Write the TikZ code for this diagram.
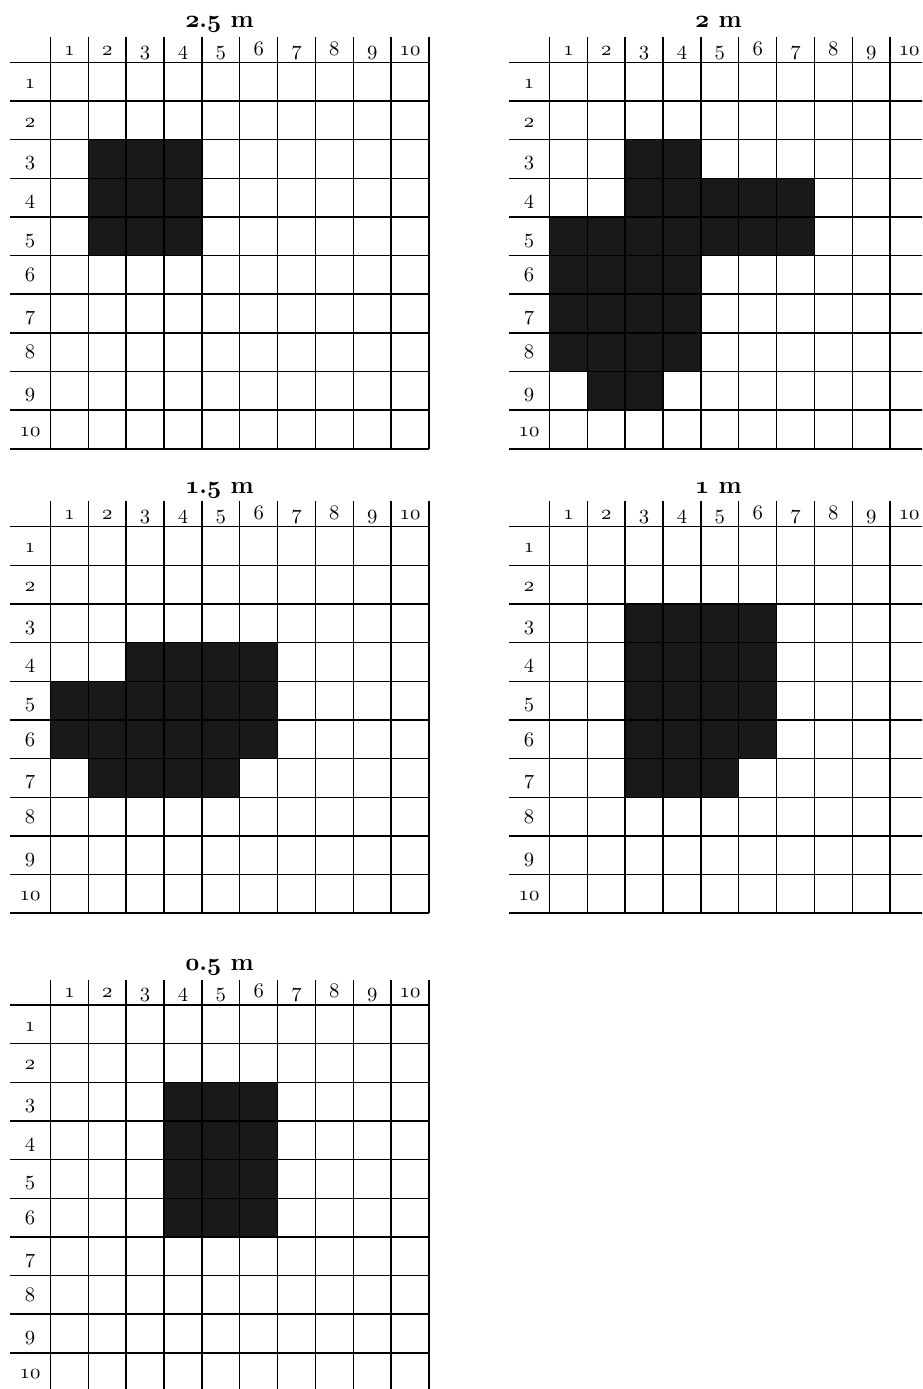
\documentclass[tikz,border=0pt]{standalone}
\DeclareFontFamily{OML}{oscmm}{\skewchar\font127}
\DeclareFontShape{OML}{oscmm}{m}{it}{<->cmmi10}{}
\DeclareFontShape{OML}{oscmm}{b}{it}{<->cmmib10}{}
\newcommand\osn[1]{{\usefont{OML}{oscmm}{m}{it}#1}}
\newcommand\osb[1]{{\usefont{OML}{oscmm}{b}{it}#1}}
\tikzset{
  gridline/.style={line width=1.1pt, black},
  cellfill/.style={fill=black!90},
  numlab/.style={font=\fontsize{15.5}{17}\selectfont, anchor=base, inner sep=0pt},
  gtitle/.style={font=\fontsize{18.5}{21}\selectfont\bfseries, anchor=base, inner sep=0pt},
}
% #1 x offset, #2 y offset, #3 title, #4 title baseline, #5 filled blocks c1/r1/c2/r2, #6 name prefix
\newcommand\gridat[6]{%
  \begin{scope}[shift={(#1,#2)}]
    \foreach \a/\b/\c/\d in {#5}
      \fill[cellfill] ({50.5+37.85*(\a-1)},{62.3+38.65*(\b-1)}) rectangle ({50.5+37.85*\c},{62.3+38.65*\d});
    \foreach \i in {0,...,10}
      \draw[gridline] ({50.5+37.85*\i},37) -- ({50.5+37.85*\i},448.8);
    \foreach \j in {0,...,10}
      \draw[gridline] (10,{62.3+38.65*\j}) -- (429,{62.3+38.65*\j});
    \foreach \i in {1,...,10} {
      \node[numlab] (#6c\i) at ({50.5+37.85*(\i-0.5)},55) {\osn{\i}};
      \node[numlab] (#6r\i) at (30,{62.3+38.65*(\i-0.5)+6.8}) {\osn{\i}};
    }
    \node[gtitle] (#6t) at (219.5,#4) {#3};
  \end{scope}}
\begin{document}
\begin{tikzpicture}[x=0.75pt,y=-0.75pt]
\useasboundingbox (0,0) rectangle (922,1389);
\clip (0,0) rectangle (922,1389);
\gridat{0}{0}{\osb{2}.\osb{5} m}{27.5}{2/3/4/5}{ga}
\gridat{499}{0}{\osb{2} m}{27.5}{3/3/4/3, 3/4/7/4, 1/5/7/5, 1/6/4/8, 2/9/3/9}{gb}
\gridat{0}{464.4}{\osb{1}.\osb{5} m}{29.5}{3/4/6/4, 1/5/6/6, 2/7/5/7}{gc}
\gridat{499}{464.4}{\osb{1} m}{29.5}{3/3/6/6, 3/7/5/7}{gd}
\gridat{0}{942.7}{\osb{0}.\osb{5} m}{27.5}{4/3/6/6}{ge}
\end{tikzpicture}
\end{document}
